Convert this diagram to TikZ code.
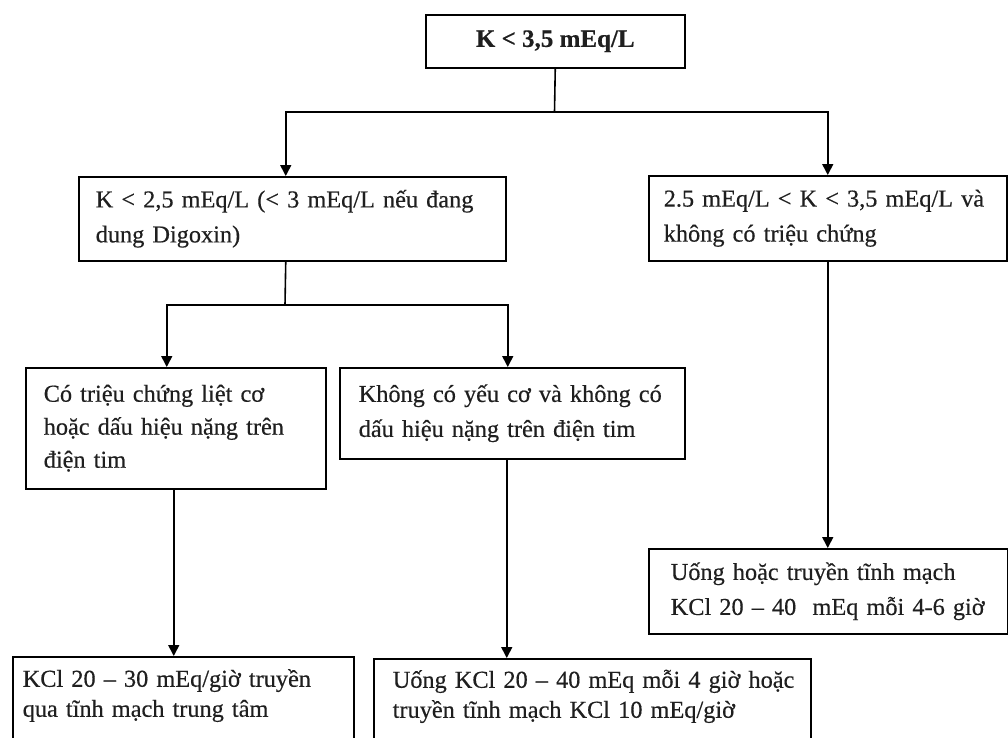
\documentclass[tikz,border=0pt]{standalone}
\usepackage{fontspec}
\setmainfont{Liberation Serif}[FakeBold=0.4]
\usetikzlibrary{arrows.meta}
\begin{document}
\begin{tikzpicture}[x=1pt, y=-1pt,
  box/.style={draw=black, line width=1.5pt, fill=white, inner ysep=0pt,
    align=left, anchor=north west, text=black!88,
    font=\fontsize{24.3}{35}\selectfont},
  lowbox/.style={box, font=\fontsize{24.3}{30}\selectfont},
  link/.style={line width=1.6pt, draw=black},
  arr/.style={link, -{Triangle[length=11pt,width=11pt]}}]
\path[use as bounding box, clip] (0,0) rectangle (1008,737);
\fill[white] (0,0) rectangle (1008,737);

% decision boxes
\node[box, align=center, inner xsep=0pt, minimum width=259pt, minimum height=53pt,
  font=\fontsize{25}{30}\selectfont\bfseries] (top) at (425,14) {K < 3,5 mEq/L};

\node[box, text width=393pt, inner xsep=17pt, minimum height=84pt] (b2) at (78,176)
  {\mbox{K < 2,5 mEq/L (< 3 mEq/L nếu đang}\\\mbox{dung Digoxin)}};

\node[box, text width=328pt, inner xsep=15pt, minimum height=85pt] (b3) at (648,175)
  {\mbox{2.5 mEq/L < K < 3,5 mEq/L và}\\\mbox{không có triệu chứng}};

\node[box, text width=264pt, inner xsep=18pt, minimum height=121pt,
  font=\fontsize{24.3}{33}\selectfont] (b4) at (25,367)
  {\mbox{Có triệu chứng liệt cơ}\\\mbox{hoặc dấu hiệu nặng trên}\\\mbox{điện tim}};

\node[box, text width=307pt, inner xsep=19pt, minimum height=91pt] (b5) at (339,367)
  {\mbox{Không có yếu cơ và không có}\\\mbox{dấu hiệu nặng trên điện tim}};

\node[box, text width=315pt, inner xsep=22pt, minimum height=85pt] (b6) at (648,548)
  {\mbox{Uống hoặc truyền tĩnh mạch}\\\mbox{KCl 20 – 40\ \ mEq mỗi 4-6 giờ}};

% treatment boxes running off the lower edge
\node[lowbox, text width=321pt, inner xsep=10pt] (b7) at (12,656)
  {\rule{0pt}{30pt}\mbox{KCl 20 – 30 mEq/giờ truyền}\\
   \mbox{qua tĩnh mạch trung tâm}\rule[-60pt]{0pt}{60pt}};

\node[lowbox, text width=399pt, inner xsep=19pt] (b8) at (373,658)
  {\rule{0pt}{29pt}\mbox{Uống KCl 20 – 40 mEq mỗi 4 giờ hoặc}\\
   \mbox{truyền tĩnh mạch KCl 10 mEq/giờ}\rule[-60pt]{0pt}{60pt}};

% connectors
\coordinate (j0) at (554.5,112);
\coordinate (j1) at (285,305);
\coordinate (b2in) at ([xshift=-6.5pt]b2.north);
\coordinate (b2out) at ([xshift=-6.5pt]b2.south);
\coordinate (b4in) at ([xshift=-9pt]b4.north);
\coordinate (b4out) at ([xshift=-2pt]b4.south);
\coordinate (b5in) at ([xshift=-4.5pt]b5.north);
\coordinate (b5out) at ([xshift=-5.5pt]b5.south);

\draw[link] (top.south) -- (j0);
\draw[arr] (j0) -| (b2in);
\draw[arr] (j0) -| (b3.north);
\draw[link] (b2out) -- (j1);
\draw[arr] (j1) -| (b4in);
\draw[arr] (j1) -| (b5in);
\draw[arr] (b4out) -- (b4out |- b7.north);
\draw[arr] (b5out) -- (b5out |- b8.north);
\draw[arr] (b3.south) -- (b3.south |- b6.north);
\end{tikzpicture}
\end{document}
